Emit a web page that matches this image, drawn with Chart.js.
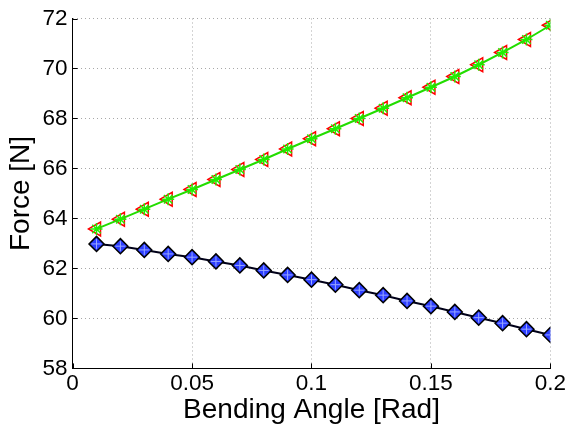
<!DOCTYPE html>
<html>
<head>
<meta charset="utf-8">
<script src="https://cdn.jsdelivr.net/npm/chart.js@4.4.1/dist/chart.umd.min.js"></script>
<style>
html,body{margin:0;padding:0;background:#fff;}
#wrap{width:568px;height:427px;position:relative;}
</style>
</head>
<body>
<div id="wrap"><canvas id="c" width="568" height="427"></canvas></div>
<script>
const angles = [0.01,0.02,0.03,0.04,0.05,0.06,0.07,0.08,0.09,0.10,0.11,0.12,0.13,0.14,0.15,0.16,0.17,0.18,0.19,0.20];
const forceUpper = [63.58,63.97,64.37,64.77,65.16,65.56,65.96,66.36,66.78,67.19,67.59,68.00,68.41,68.83,69.25,69.68,70.15,70.64,71.16,71.73];
const forceLower = [62.98,62.89,62.74,62.58,62.45,62.28,62.12,61.92,61.74,61.55,61.35,61.13,60.93,60.70,60.49,60.26,60.03,59.81,59.57,59.34];
const xTicks = [0,0.05,0.1,0.15,0.2];
const xTickLabels = ['0','0.05','0.1','0.15','0.2'];
const yTicks = [58,60,62,64,66,68,70,72];
const xTitle = 'Bending Angle [Rad]';
const yTitle = 'Force [N]';

const pts = (ys) => angles.map((a,i)=>({x:a,y:ys[i]}));

const FONT = '"Liberation Sans", Arial, Helvetica, sans-serif';

const innerTicks = {
  id:'innerTicks',
  afterDraw(chart){
    const {ctx, chartArea:a, scales:{x,y}} = chart;
    ctx.save();
    ctx.strokeStyle='#000'; ctx.lineWidth=1;
    ctx.beginPath();
    xTicks.forEach(v=>{const px=Math.round(x.getPixelForValue(v))+0.5; ctx.moveTo(px,a.bottom); ctx.lineTo(px,a.bottom-5);});
    yTicks.forEach(v=>{const py=Math.round(y.getPixelForValue(v))+0.5; ctx.moveTo(a.left,py); ctx.lineTo(a.left+5,py);});
    ctx.stroke();
    ctx.restore();
  }
};

new Chart(document.getElementById('c'), {
  type:'line',
  data:{
    datasets:[
      {
        label:'upper star',
        data:pts(forceUpper),
        borderColor:'#22dd00',
        borderWidth:2,
        pointStyle:'star',
        pointRadius:6,
        pointBorderColor:'#22ee00',
        pointBorderWidth:1.5,
        pointBackgroundColor:'#22ee00',
        tension:0,
        order:1
      },
      {
        label:'upper triangle',
        data:pts(forceUpper),
        showLine:false,
        pointStyle:'triangle',
        rotation:-90,
        pointRadius:8,
        pointBorderColor:'#ff0000',
        pointBorderWidth:1.5,
        pointBackgroundColor:'rgba(255,255,255,0)',
        order:2
      },
      {
        label:'lower cross',
        data:pts(forceLower),
        showLine:false,
        pointStyle:'cross',
        pointRadius:5,
        pointBorderColor:'#9aa8ff',
        pointBorderWidth:1,
        order:3
      },
      {
        label:'lower diamond',
        data:pts(forceLower),
        borderColor:'#000018',
        borderWidth:2,
        pointStyle:'rectRot',
        pointRadius:7.5,
        pointBorderColor:'#000000',
        pointBorderWidth:1.5,
        pointBackgroundColor:'#2b3dff',
        tension:0,
        order:4
      }
    ]
  },
  options:{
    responsive:false,
    animation:false,
    layout:{padding:{left:4,right:14,top:4,bottom:0}},
    plugins:{legend:{display:false},tooltip:{enabled:false}},
    scales:{
      x:{
        type:'linear', min:0, max:0.2,
        afterBuildTicks:(s)=>{s.ticks = xTicks.map(v=>({value:v}));},
        ticks:{
          callback:(v)=>{const i=xTicks.indexOf(v); return i>=0?xTickLabels[i]:'';},
          font:{family:FONT,size:22.5}, color:'#000', padding:2, maxRotation:0
        },
        grid:{drawTicks:false, color:(c)=>c.tick && c.tick.value===0?'rgba(0,0,0,0)':'#a8a8a8', lineWidth:1},
        border:{display:true,color:'#000',width:1,dash:[1,3]},
        title:{display:true,text:xTitle,font:{family:FONT,size:28},color:'#000',padding:{top:-6,bottom:0}}
      },
      y:{
        type:'linear', min:58, max:72,
        afterBuildTicks:(s)=>{s.ticks = yTicks.map(v=>({value:v}));},
        ticks:{
          font:{family:FONT,size:22.5}, color:'#000', padding:5
        },
        grid:{drawTicks:false, color:(c)=>c.tick && c.tick.value===58?'rgba(0,0,0,0)':'#a8a8a8', lineWidth:1},
        border:{display:true,color:'#000',width:1,dash:[1,3]},
        title:{display:true,text:yTitle,font:{family:FONT,size:28},color:'#000',padding:{top:0,bottom:0}}
      }
    }
  },
  plugins:[innerTicks]
});
</script>
</body>
</html>
